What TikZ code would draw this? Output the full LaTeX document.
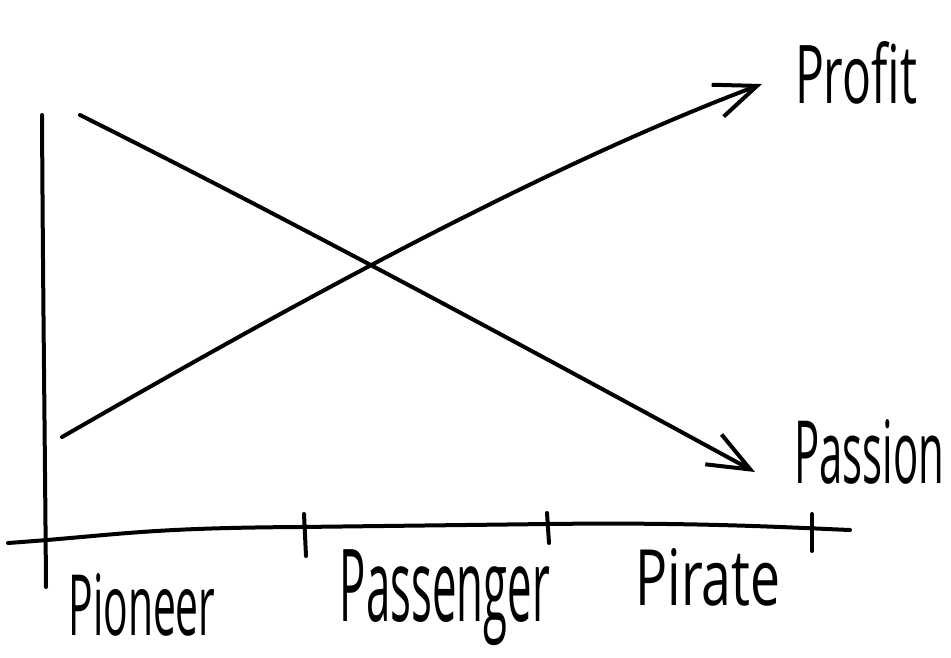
\documentclass[tikz,border=0pt]{standalone}
\usepackage{fontspec}
\setmainfont{Open Sans}
\usetikzlibrary{arrows.meta}
\tikzset{
  pen/.style={line width=4pt, line cap=round, line join=round, black},
  curve/.style={pen, -{Straight Barb[length=42pt,width=34pt,line width=4pt]}},
  hand/.style={inner sep=0pt, anchor=center},
}
\begin{document}
\begin{tikzpicture}[x=1pt,y=-1pt]
\useasboundingbox (0,0) rectangle (951,657);
% axes
\coordinate (ytop) at (42,115);
\coordinate (ybot) at (46,587);
\coordinate (xl) at (8,543);
\coordinate (xr) at (850,530);
\draw[pen] (ytop) .. controls (43,300) and (45,450) .. (ybot);
\draw[pen] (xl) .. controls (120,535) and (140,528) .. (300,527) -- (548,524) .. controls (700,522) and (800,528) .. (xr);
% ticks
\coordinate (t1a) at (304,514); \coordinate (t1b) at (306,556);
\coordinate (t2a) at (547,513); \coordinate (t2b) at (549,543);
\coordinate (t3a) at (812,514); \coordinate (t3b) at (812,551);
\draw[pen] (t1a) -- (t1b);
\draw[pen] (t2a) -- (t2b);
\draw[pen] (t3a) -- (t3b);
% curves
\coordinate (pfs) at (62,437);
\coordinate (pfe) at (762,84);
\coordinate (pss) at (80,115);
\coordinate (pse) at (755,472);
\draw[curve] (pfs) .. controls (240,335) and (520,175) .. (pfe);
\draw[curve] (pss) .. controls (300,225) and (540,355) .. (pse);
% labels
\node[hand] (profit) at (856,73) {\resizebox{122pt}{62pt}{Profit}};
\node[hand] (passion) at (869,452) {\resizebox{150pt}{64pt}{Passion}};
\node[hand] (pioneer) at (142,605) {\resizebox{147pt}{62pt}{Pioneer}};
\node[hand] (passenger) at (445,598) {\resizebox*{210pt}{96pt}{Passenger}};
\node[hand] (pirate) at (708,577) {\resizebox{145pt}{57pt}{Pirate}};
\end{tikzpicture}
\end{document}
